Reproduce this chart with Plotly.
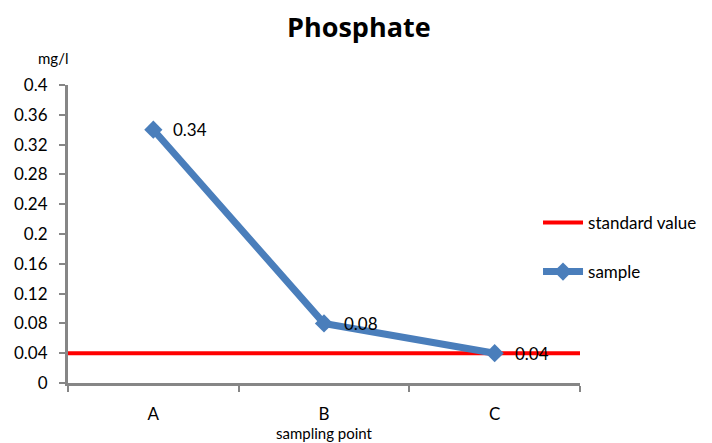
import plotly.graph_objects as go

# Phosphate concentration at each sampling point (mg/l)
categories = ["A", "B", "C"]
sample_values = [0.34, 0.08, 0.04]
standard_value = 0.04
y_ticks = [0, 0.04, 0.08, 0.12, 0.16, 0.2, 0.24, 0.28, 0.32, 0.36, 0.4]

x_pos = list(range(len(categories)))
x_edges = [i - 0.5 for i in range(len(categories) + 1)]

font_family = "Lato"
blue = "#4a7ebb"
red = "#ff0000"
axis_grey = "#868686"

fig = go.Figure()

fig.add_trace(go.Scatter(
    x=[x_edges[0], x_edges[-1]],
    y=[standard_value, standard_value],
    mode="lines",
    line=dict(color=red, width=4),
    name="standard value",
    legendgroup="std",
))

fig.add_trace(go.Scatter(
    x=x_pos,
    y=sample_values,
    mode="lines+markers",
    line=dict(color=blue, width=7),
    marker=dict(symbol="diamond", size=14, color=blue),
    name="sample",
    legendgroup="sample",
))

for xi, v in zip(x_pos, sample_values):
    fig.add_annotation(
        x=xi, y=v, text=f"{v:g}", showarrow=False,
        xanchor="left", yanchor="middle", xshift=18,
        font=dict(family=font_family, size=17, color="#000000"),
    )

fig.update_layout(
    width=712, height=443,
    margin=dict(l=68, r=132, t=85, b=60, autoexpand=False),
    paper_bgcolor="white", plot_bgcolor="white",
    title=dict(
        text="<b>Phosphate</b>", x=0.504, xanchor="center", y=0.937, yanchor="middle",
        font=dict(family="Open Sans", size=27, color="#000000"),
    ),
    legend=dict(
        x=0.918, xanchor="left", y=0.455, yanchor="middle",
        font=dict(family=font_family, size=17, color="#000000"),
        tracegroupgap=24, bgcolor="rgba(0,0,0,0)", itemwidth=40,
    ),
    showlegend=True,
)

fig.update_xaxes(
    range=[x_edges[0], x_edges[-1]],
    tickvals=x_pos, ticktext=categories, ticks="",
    ticklabelstandoff=14,
    tickfont=dict(family=font_family, size=17, color="#000000"),
    showline=True, linecolor=axis_grey, linewidth=3,
    showgrid=False, zeroline=False,
    minor=dict(tickvals=x_edges, ticks="outside", ticklen=6, tickwidth=2, tickcolor=axis_grey),
    title=dict(text="sampling point", standoff=6,
               font=dict(family=font_family, size=15, color="#000000")),
)

fig.update_yaxes(
    range=[0, 0.4], tickvals=y_ticks,
    ticktext=[f"{t:g}" for t in y_ticks],
    ticks="outside", ticklen=6, tickwidth=2, tickcolor=axis_grey,
    ticklabelstandoff=8,
    tickfont=dict(family=font_family, size=17, color="#000000"),
    showline=True, linecolor=axis_grey, linewidth=3,
    showgrid=False, zeroline=False,
)

fig.add_annotation(
    text="mg/l", xref="paper", yref="paper", x=-0.03, y=1.055,
    xanchor="center", yanchor="bottom", showarrow=False,
    font=dict(family=font_family, size=15, color="#000000"),
)

fig.write_html("out.html")
